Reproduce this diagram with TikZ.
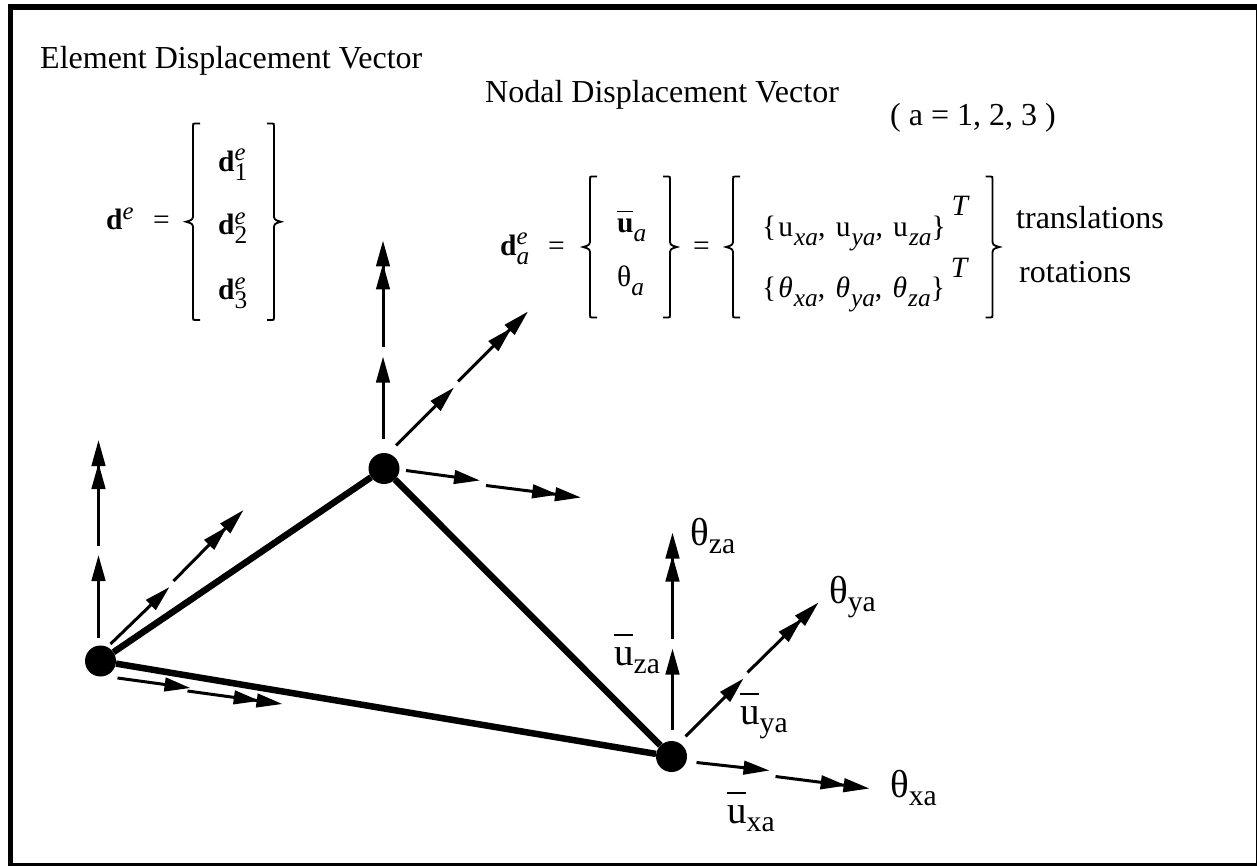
\documentclass[tikz,border=0pt]{standalone}
\usepackage{fontspec}
\setmainfont{Liberation Serif}
\usetikzlibrary{arrows.meta,calc}
\newcommand{\lowidx}[1]{\raisebox{-.3em}{\scalebox{.86}{\itshape #1}}}
\newcommand{\highidx}[1]{\raisebox{.36em}{\scalebox{.84}{\itshape #1}}}
\newcommand{\lblidx}[1]{\raisebox{-.22em}{\scalebox{.76}{#1}}}
\newcommand{\barred}[3]{\rlap{\raisebox{#2}{\rule{#3}{1.8pt}}}#1}
% brace: x, top, bottom, side of the nib (-1 left, 1 right)
\newcommand{\bigbrace}[4]{\draw[bracket] (#1-7*#4,#2) -- (#1-2*#4,#2) .. controls (#1,#2) .. (#1,#2+3)
  -- (#1,#2/2+#3/2-8) .. controls (#1,#2/2+#3/2-2) .. (#1+7*#4,#2/2+#3/2)
  .. controls (#1,#2/2+#3/2+2) .. (#1,#2/2+#3/2+8)
  -- (#1,#3-3) .. controls (#1,#3) .. (#1-2*#4,#3) -- (#1-7*#4,#3);}

\begin{document}
\begin{tikzpicture}[
  x=1pt, y=-1pt,
  txt/.style={anchor=base west, inner sep=0pt, font=\fontsize{32}{38}\selectfont},
  eqn/.style={txt, font=\fontsize{29.5}{35}\selectfont},
  lbl/.style={txt, font=\fontsize{39}{46}\selectfont},
  joint/.style={circle, fill=black, inner sep=0pt, minimum size=31pt},
  edge/.style={line width=6.5pt},
  bracket/.style={line width=1.8pt},
  vec/.style={line width=3pt, -{Triangle[length=26pt,width=13.5pt]}},
  vecc/.style={line width=3pt, -{Triangle[length=26pt,width=13.5pt,sep=-3pt]Triangle[length=26pt,width=13.5pt]}}
]
\useasboundingbox (0,0) rectangle (1257,866);
\draw[line width=5.5pt] (10.5,7.2) rectangle (1258.7,865.7);
% ----- element -----
\node[joint] (n1) at (100.5,661) {};
\node[joint] (n2) at (384,468.5) {};
\node[joint] (n3) at (671.5,756.5) {};
\draw[edge] (n1) -- (n2);
\draw[edge] (n2) -- (n3);
\draw[edge] (n1) -- (n3);
% ----- nodal vectors, each in two parts -----
\foreach \n/\a/\ax/\ay/\bx/\by/\cx/\cy/\dx/\dy in {
  n1/z/-2/-23/-2/-106/-2/-115/-2/-221, n1/y/10/-17/69/-74/73/-80/143/-151, n1/x/17/17/90/27/87/30/182/43,
  n2/z/-1/-30/-1/-112/-1/-122/-1/-228, n2/y/12/-23/70/-81/74/-87/144/-157, n2/x/22/2/96/12/102/17/197/29,
  n3/z/1/-27/1/-108/1/-118/1/-224, n3/y/14/-20/72/-78/76/-84/147/-154, n3/x/25/6/98/14/104/20/198/32}{
  \coordinate (\n\a a) at ($(\n)+(\ax,\ay)$);
  \coordinate (\n\a b) at ($(\n)+(\bx,\by)$);
  \coordinate (\n\a c) at ($(\n)+(\cx,\cy)$);
  \coordinate (\n\a d) at ($(\n)+(\dx,\dy)$);
  \draw[vec] (\n\a a) -- (\n\a b);
  \draw[vecc] (\n\a c) -- (\n\a d);
}
% ----- labels at node 3 -----
\node[lbl] (tz) at (690,545) {θ\lblidx{za}};
\node[lbl] (ty) at (829,603) {θ\lblidx{ya}};
\node[lbl] (tx) at (890,797) {θ\lblidx{xa}};
\node[lbl] (uz) at (614,665) {\barred{u}{.74em}{.47em}\lblidx{za}};
\node[lbl] (uy) at (740,724) {\barred{u}{.74em}{.47em}\lblidx{ya}};
\node[lbl] (ux) at (727,823) {\barred{u}{.74em}{.47em}\lblidx{xa}};
% ----- element vector -----
\node[txt] (title1) at (40,69) {Element Displacement Vector};
\node[eqn] (de) at (106,230) {\textbf{d}\highidx{e}};
\node[eqn] (eq1) at (153,230) {=};
\bigbrace{193}{123.5}{320}{-1}
\bigbrace{274}{123.5}{320}{1}
\node[eqn] (d1) at (218,171.5) {\textbf{d}\rlap{\highidx{e}}\lowidx{\upshape 1}};
\node[eqn] (d2) at (218,235) {\textbf{d}\rlap{\highidx{e}}\lowidx{\upshape 2}};
\node[eqn] (d3) at (218,300) {\textbf{d}\rlap{\highidx{e}}\lowidx{\upshape 3}};
% ----- nodal vector -----
\node[txt] (title2) at (485,102.5) {Nodal Displacement Vector};
\node[txt] (range) at (890,125.5) {( a = 1, 2, 3 )};
\node[eqn] (da) at (500,255.5) {\textbf{d}\rlap{\highidx{e}}\lowidx{a}};
\node[eqn] (eq2) at (548,255.5) {=};
\bigbrace{590}{176.5}{317.5}{-1}
\bigbrace{670}{176.5}{317.5}{1}
\node[eqn] (ua) at (617,233) {\barred{\textbf{u}}{.7em}{.52em}\lowidx{a}};
\node[eqn] (ra) at (617,286.5) {θ\lowidx{a}};
\node[eqn] (eq3) at (693,255.5) {=};
\bigbrace{733}{176.5}{317.5}{-1}
\bigbrace{992.5}{176.5}{317.5}{1}
\node[eqn] (ulist) at (762,236.5) {\{\hspace{2pt}u\hspace{1pt}\lowidx{xa},\hspace{3pt} u\hspace{1pt}\lowidx{ya},\hspace{3pt} u\hspace{1pt}\lowidx{za}\}\hspace{6pt}\raisebox{.7em}{\itshape T}};
\node[eqn] (rlist) at (762,298) {\{\hspace{2pt}\textit{θ}\hspace{1pt}\lowidx{xa},\hspace{3pt} \textit{θ}\hspace{1pt}\lowidx{ya},\hspace{3pt} \textit{θ}\hspace{1pt}\lowidx{za}\}\hspace{6pt}\raisebox{.7em}{\itshape T}};
\node[txt] (trans) at (1016,229) {translations};
\node[txt] (rot) at (1019,282.5) {rotations};
\end{tikzpicture}
\end{document}
